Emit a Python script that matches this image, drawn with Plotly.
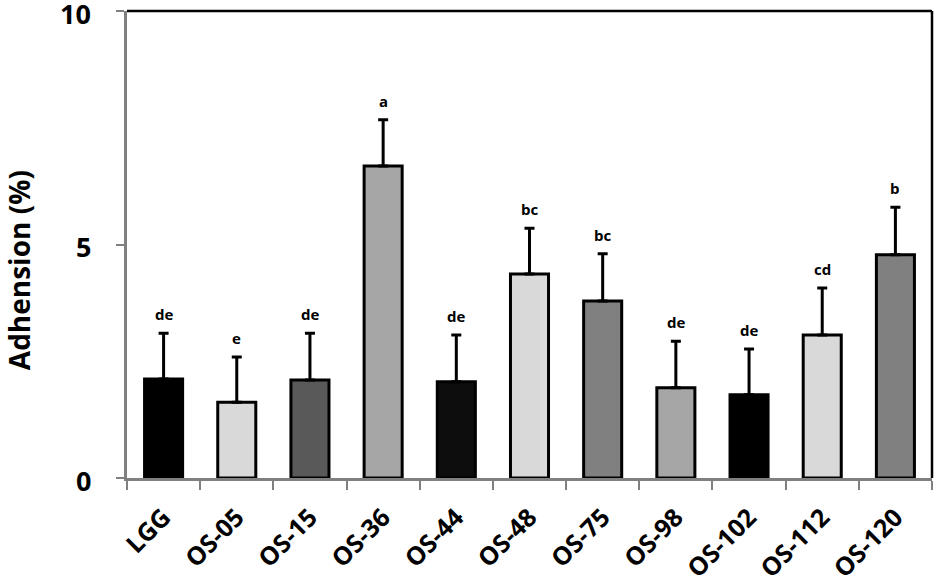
import plotly.graph_objects as go

categories = ["LGG", "OS-05", "OS-15", "OS-36", "OS-44", "OS-48", "OS-75", "OS-98", "OS-102", "OS-112", "OS-120"]
means = [2.12, 1.62, 2.10, 6.68, 2.06, 4.37, 3.79, 1.93, 1.78, 3.06, 4.78]
sds = [0.98, 0.97, 1.00, 0.99, 1.00, 0.98, 1.01, 1.00, 0.98, 1.01, 1.02]
letters = ["de", "e", "de", "a", "de", "bc", "bc", "de", "de", "cd", "b"]
colors = ["#000000", "#d9d9d9", "#595959", "#a6a6a6", "#0d0d0d", "#d9d9d9",
          "#808080", "#a6a6a6", "#000000", "#d9d9d9", "#808080"]
yticks = [0, 5, 10]

font = "Open Sans"

fig = go.Figure()
fig.add_trace(go.Bar(
    x=categories, y=means,
    marker=dict(color=colors, line=dict(color="black", width=3)),
    width=0.52,
    error_y=dict(type="data", array=sds, arrayminus=[0] * len(sds), symmetric=False,
                 color="black", thickness=3, width=5),
))

for c, m, s, l in zip(categories, means, sds, letters):
    fig.add_annotation(x=c, y=m + s, text=f"<b>{l}</b>", showarrow=False,
                       yshift=19, font=dict(family=font, size=15, color="black"))

# y tick labels (drawn as annotations so the top one is not culled)
for v in yticks:
    fig.add_annotation(xref="paper", yref="y", x=0, y=v, xanchor="right", yanchor="middle",
                       xshift=-35, yshift=-2, borderpad=0, text=f"<b>{v}</b>", showarrow=False,
                       font=dict(family=font, size=27, color="black"))

fig.add_annotation(xref="paper", yref="paper", x=0, y=0.445, xshift=-108,
                   xanchor="center", yanchor="middle", borderpad=0,
                   text="<b>Adhension (%)</b>", textangle=-90, showarrow=False,
                   font=dict(family=font, size=28, color="black"))

fig.add_shape(type="line", xref="paper", yref="paper", x0=0, x1=1, y0=1, y1=1,
              line=dict(color="black", width=2.5))
fig.add_shape(type="line", xref="paper", yref="paper", x0=1, x1=1, y0=0, y1=1,
              line=dict(color="black", width=2.5))

fig.update_layout(
    width=935, height=583,
    margin=dict(l=127, r=3, t=11, b=105),
    plot_bgcolor="white", paper_bgcolor="white",
    showlegend=False,
    font=dict(family=font, color="black"),
)
fig.update_xaxes(
    type="category", automargin=False,
    showline=True, linecolor="#808080", linewidth=2.5,
    ticks="outside", tickson="boundaries", ticklen=9, tickcolor="#808080", tickwidth=1.5,
    tickangle=-45, ticklabelstandoff=12,
    tickfont=dict(family=font, size=25, color="black", weight="bold"),
    showgrid=False, range=[-0.5, 10.5],
)
fig.update_yaxes(
    automargin=False,
    range=[0, 10], tickvals=yticks, showticklabels=False,
    showline=True, linecolor="#808080", linewidth=2.5,
    ticks="outside", ticklen=8, tickcolor="#808080", tickwidth=1.5,
    showgrid=False, zeroline=False,
)

fig.write_html("out.html", config={"displayModeBar": False},
               post_script="document.body.style.margin='0';")
